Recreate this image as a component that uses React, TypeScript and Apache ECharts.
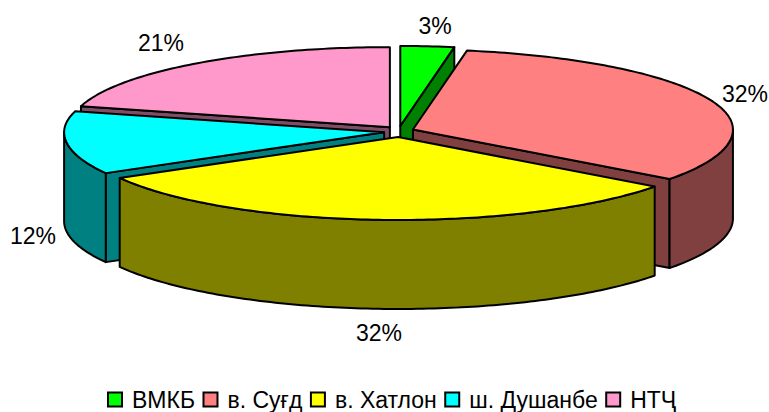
import React, { useEffect, useRef } from "react";
import * as echarts from "echarts";

const categories = ["ВМКБ", "в. Суғд", "в. Хатлон", "ш. Душанбе", "НТҶ"];
const values = [2.7, 32.49, 31.6, 12.41, 20.8];
const topColors = ["#00FF00", "#FF8080", "#FFFF00", "#00FFFF", "#FF99CC"];
const sideColors = ["#008000", "#804040", "#808000", "#008080", "#804D66"];
const drawOrder = [4, 0, 1, 3, 2];
const labelAnchors: [number, number][] = [
  [435, 26],
  [745, 94],
  [379, 333],
  [33, 236],
  [161, 43],
];

const FONT = '"Liberation Sans", Arial, sans-serif';
const CX = 399;
const CY = 131.5;
const RX = 320;
const RY_BACK = 80;
const RY_FRONT = 83;
const DEPTH = 89;
const EX = 15;
const EY = 5.5;
const RAD = Math.PI / 180;
const LINE = { stroke: "#000", lineWidth: 2, lineJoin: "round" };

const total = values.reduce((a, b) => a + b, 0);

function sliceElements(index: number) {
  const before = values.slice(0, index).reduce((a, b) => a + b, 0);
  const a0 = (before / total) * 360;
  const a1 = ((before + values[index]) / total) * 360;
  const mid = ((a0 + a1) / 2) * RAD;
  const ax = CX + EX * Math.sin(mid);
  const ay = CY - EY * Math.cos(mid);
  const rim = (deg: number, drop = 0): number[] => {
    const c = Math.cos(deg * RAD);
    return [ax + RX * Math.sin(deg * RAD), ay - (c > 0 ? RY_BACK : RY_FRONT) * c + drop];
  };
  const arc = (from: number, to: number, drop = 0) => {
    const pts: number[][] = [];
    const n = Math.max(2, Math.ceil(Math.abs(to - from)));
    for (let i = 0; i <= n; i++) pts.push(rim(from + ((to - from) * i) / n, drop));
    return pts;
  };
  const side = { ...LINE, fill: sideColors[index] };
  const poly = (points: number[][], style: object) => ({
    type: "polygon",
    shape: { points },
    style,
    silent: true,
  });
  const out: any[] = [];
  if (a0 > 180 && a0 < 360) {
    out.push(poly([[ax, ay], rim(a0), rim(a0, DEPTH), [ax, ay + DEPTH]], side));
  }
  if (a1 > 0 && a1 < 180) {
    out.push(poly([[ax, ay], rim(a1), rim(a1, DEPTH), [ax, ay + DEPTH]], side));
  }
  const f0 = Math.max(a0, 90);
  const f1 = Math.min(a1, 270);
  if (f1 > f0) {
    out.push(poly([...arc(f0, f1), ...arc(f1, f0, DEPTH)], side));
  }
  out.push(poly([[ax, ay], ...arc(a0, a1)], { ...LINE, fill: topColors[index] }));
  return out;
}

export default function App() {
  const ref = useRef<HTMLDivElement>(null);
  useEffect(() => {
    document.body.style.margin = "0";
    const chart = echarts.init(ref.current!, undefined, { renderer: "svg" });
    chart.setOption({
      animation: false,
      backgroundColor: "#fff",
      legend: {
        data: categories,
        left: 107,
        top: 388,
        padding: 0,
        itemWidth: 14,
        itemHeight: 14,
        itemGap: 7.5,
        icon: "rect",
        selectedMode: false,
        itemStyle: { borderColor: "#000", borderWidth: 2 },
        textStyle: { fontFamily: FONT, fontSize: 23, color: "#000", padding: [2, 0, 0, 5] },
      },
      series: drawOrder.map((idx) => ({
        type: "custom",
        name: categories[idx],
        coordinateSystem: "none",
        silent: true,
        clip: false,
        itemStyle: { color: topColors[idx] },
        data: [values[idx]],
        renderItem: () => ({ type: "group", children: sliceElements(idx) }),
      })),
      graphic: values.map((v, i) => ({
        type: "text",
        x: labelAnchors[i][0],
        y: labelAnchors[i][1],
        silent: true,
        style: {
          text: `${Math.round(v)}%`,
          fontFamily: FONT,
          fontSize: 23,
          fill: "#000",
          align: "center",
          verticalAlign: "middle",
        },
      })),
    });
    return () => chart.dispose();
  }, []);
  return <div ref={ref} style={{ width: 769, height: 412 }} />;
}
